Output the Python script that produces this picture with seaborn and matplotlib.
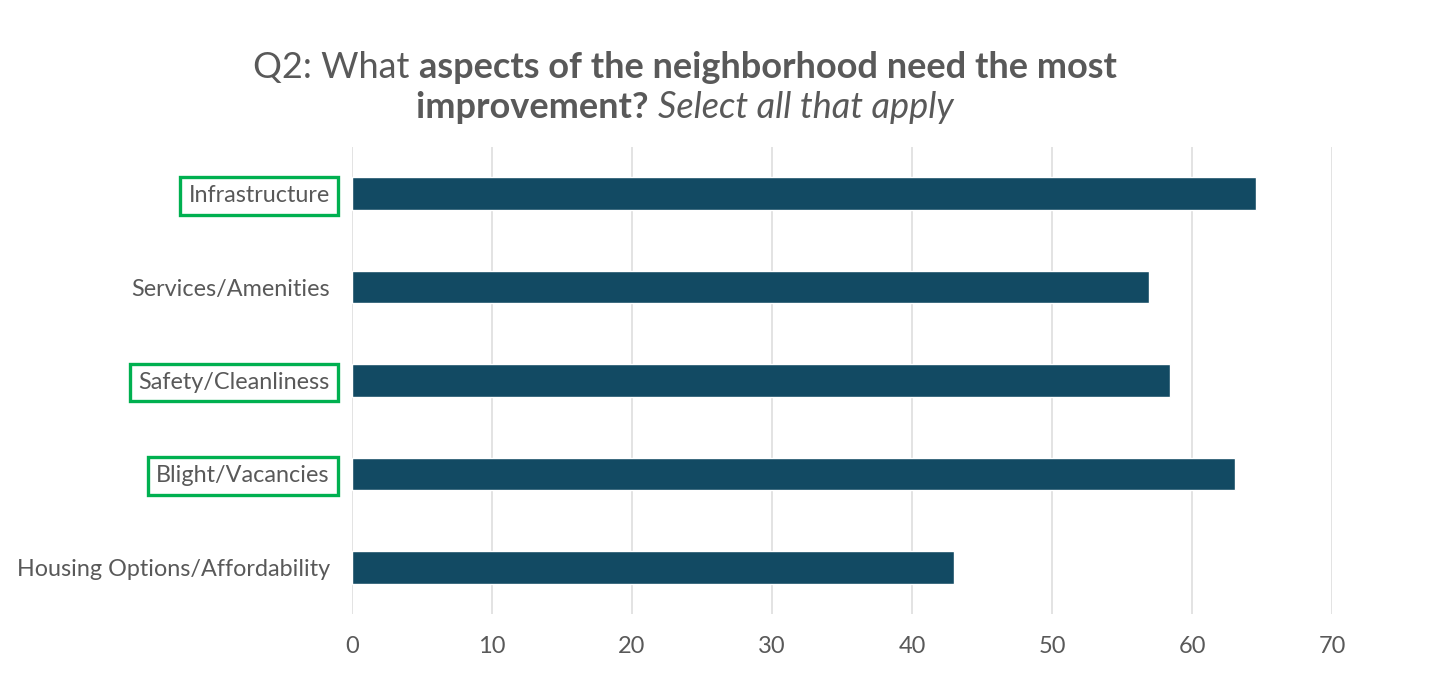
import matplotlib
matplotlib.use("Agg")
import matplotlib.pyplot as plt
import pandas as pd
import seaborn as sns

# values
categories = [
    "Infrastructure",
    "Services/Amenities",
    "Safety/Cleanliness",
    "Blight/Vacancies",
    "Housing Options/Affordability",
]
values = [64.6, 56.9, 58.4, 63.1, 43.0]
highlighted = ["Infrastructure", "Safety/Cleanliness", "Blight/Vacancies"]
x_ticks = [0, 10, 20, 30, 40, 50, 60, 70]

# title runs: (text, weight, style)
title_line1 = [("Q2: What ", "normal", "normal"),
               ("aspects of the neighborhood need the most", "bold", "normal")]
title_line2 = [("improvement? ", "bold", "normal"),
               ("Select all that apply", "normal", "italic")]

GREY = "#595959"
BAR = "#124A63"
GREEN = "#00B050"

sns.set_style("white")
plt.rcParams["font.family"] = ["Lato", "DejaVu Sans"]

df = pd.DataFrame({"category": categories, "value": values})

W, H = 1442, 698
fig = plt.figure(figsize=(W / 100, H / 100), dpi=100)
ax = fig.add_axes([352 / W, 84 / H, 980 / W, 467 / H])

sns.barplot(data=df, x="value", y="category", color=BAR, saturation=1,
            width=0.35, ax=ax, zorder=3)

ax.set_xlim(0, 70)
ax.set_ylim(4.5, -0.5)
ax.set_xticks(x_ticks)
ax.set_xlabel("")
ax.set_ylabel("")
ax.xaxis.grid(True, color="#DEDEDE", linewidth=1.2, zorder=0)
ax.yaxis.grid(False)
ax.set_axisbelow(True)
sns.despine(ax=ax, left=True, bottom=True)
ax.tick_params(axis="x", length=0, pad=16, labelsize=17, labelcolor=GREY)
ax.tick_params(axis="y", length=0, pad=16, labelsize=16.8, labelcolor=GREY)

for lab in ax.get_yticklabels():
    if lab.get_text() in highlighted:
        lab.set_bbox(dict(boxstyle="square,pad=0.36", fc="none", ec=GREEN, lw=2.4))

# mixed-weight title, centred line by line
fig.canvas.draw()
renderer = fig.canvas.get_renderer()


def place_line(runs, y_px, size=26):
    texts = []
    for s, weight, style in runs:
        t = fig.text(0, 1 - y_px / H, s, fontsize=size, fontweight=weight,
                     fontstyle=style, color=GREY, va="baseline", ha="left")
        texts.append(t)
    widths = [t.get_window_extent(renderer).width for t in texts]
    x = 685 - sum(widths) / 2
    for t, w in zip(texts, widths):
        t.set_x(x / W)
        x += w


place_line(title_line1, 78)
place_line(title_line2, 118)

fig.savefig("out.png", dpi=100)
